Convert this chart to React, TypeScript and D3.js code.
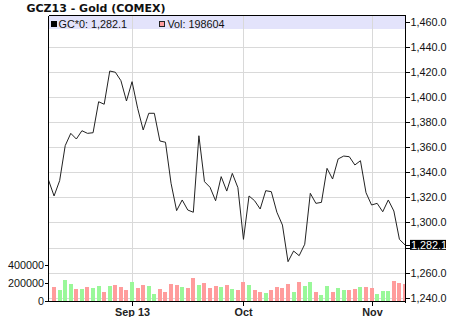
import React from "react";
import * as d3 from "d3";

const dates: string[] = [
  "Aug 12","Aug 13","Aug 14","Aug 15","Aug 16","Aug 19","Aug 20","Aug 21","Aug 22","Aug 23",
  "Aug 26","Aug 27","Aug 28","Aug 29","Aug 30",
  "Sep 3","Sep 4","Sep 5","Sep 6","Sep 9","Sep 10","Sep 11","Sep 12","Sep 13","Sep 16",
  "Sep 17","Sep 18","Sep 19","Sep 20","Sep 23","Sep 24","Sep 25","Sep 26","Sep 27","Sep 30",
  "Oct 1","Oct 2","Oct 3","Oct 4","Oct 7","Oct 8","Oct 9","Oct 10","Oct 11","Oct 14",
  "Oct 15","Oct 16","Oct 17","Oct 18","Oct 21","Oct 22","Oct 23","Oct 24","Oct 25","Oct 28",
  "Oct 29","Oct 30","Oct 31",
  "Nov 1","Nov 4","Nov 5","Nov 6","Nov 7","Nov 8","Nov 11",
];

const prices: number[] = [
  1333.8, 1321.1, 1333.3, 1361.2, 1371.0, 1366.5, 1373.1, 1371.0, 1371.5, 1396.2,
  1394.2, 1420.7, 1419.7, 1413.0, 1396.8, 1412.2, 1391.0, 1373.7, 1387.0, 1387.0,
  1364.9, 1363.9, 1331.2, 1309.4, 1317.9, 1309.9, 1308.1, 1369.1, 1332.5, 1328.0,
  1317.3, 1336.5, 1325.0, 1339.1, 1327.7, 1286.5, 1321.1, 1317.3, 1310.7, 1325.3,
  1324.5, 1308.1, 1297.9, 1268.7, 1277.2, 1273.5, 1282.6, 1323.2, 1315.2, 1316.0,
  1343.1, 1334.6, 1350.6, 1352.9, 1352.4, 1345.8, 1349.2, 1323.7, 1313.9, 1315.2,
  1308.5, 1317.9, 1309.1, 1286.5, 1282.1,
];

const volumes: (number | null)[] = [
  null, 166000, 133000, 244000, 200000, 144000, 144000, 166000, 155000, 178000,
  111000, 178000, 189000, 166000, 133000, 222000, 155000, 189000, 178000, 89000,
  144000, 111000, 200000, 189000, 166000, 155000, 267000, 189000, 211000, 155000,
  178000, 166000, 189000, 144000, 133000, 222000, 189000, 133000, 111000, 100000,
  133000, 166000, 155000, 200000, 111000, 222000, 178000, 222000, 111000, 78000,
  178000, 111000, 155000, 133000, 133000, 144000, 166000, 166000, 155000, 89000,
  122000, 122000, 233000, 211000, 198604,
];

// g = up day (green), d = down day (pink)
const volumeDir: string[] = (
  "d d g g g d g d g g d g d d d g d d g g d d d d g d d g d d d g " +
  "d g d d g d d g d d d d g d g g d g g d g g d d g d d g g g d d d"
).split(" ");

const priceTicks: number[] = [1240, 1260, 1280, 1300, 1320, 1340, 1360, 1380, 1400, 1420, 1440, 1460];
const volumeTicks: number[] = [0, 200000, 400000];
const monthTicks: { date: string; label: string }[] = [
  { date: "Sep 3", label: "Sep 13" },
  { date: "Oct 1", label: "Oct" },
  { date: "Nov 1", label: "Nov" },
];

const title = "GCZ13 - Gold (COMEX)";
const legendPrice = "GC*0: 1,282.1";
const legendVol = "Vol: 198604";

const W = 450;
const H = 317;
const L = 48.5;
const R = 405.5;
const T = 15.5;
const B = 301.5;

const FONT = "'Liberation Sans', Arial, Helvetica, sans-serif";

export default function App() {
  const x = d3.scalePoint<string>().domain(dates).range([L, R - 0.5]);
  const y = d3.scaleLinear().domain([1240, 1460]).range([297.7, 21.7]);
  const yv = d3.scaleLinear().domain([0, 400000]).range([B + 0.5, 265.7]);
  const fmt = d3.format(",.1f");

  const line = d3
    .line<number>()
    .x((_, i) => x(dates[i]) as number)
    .y((d) => y(d));

  const barW = 4;
  const last = prices[prices.length - 1];
  const lastY = y(last);

  return (
    <svg
      width={W}
      height={H}
      style={{ position: "absolute", left: 0, top: 0, display: "block" }}
      fontFamily={FONT}
    >
      <defs>
        <clipPath id="plot">
          <rect x={L} y={T} width={R - L} height={B - T} />
        </clipPath>
      </defs>
      <rect x={0} y={0} width={W} height={H} fill="#fff" />

      <text x={26.5} y={12.3} fontSize={11} fontWeight="bold" fontFamily="'DejaVu Sans', Verdana, sans-serif" fill="#111">
        {title}
      </text>

      {/* horizontal gridlines */}
      <g shapeRendering="crispEdges">
        {priceTicks.map((t) => (
          <line key={t} x1={L} x2={R} y1={Math.round(y(t)) + 0.5} y2={Math.round(y(t)) + 0.5} stroke="#d9d9d9" />
        ))}
      </g>

      {/* legend band */}
      <rect x={L} y={T} width={R - L} height={13.5} fill="#e3e3fb" />

      {/* vertical gridlines */}
      <g shapeRendering="crispEdges">
        {monthTicks.map((m) => {
          const xx = Math.round(x(m.date) as number) + 0.5;
          return <line key={m.label} x1={xx} x2={xx} y1={T} y2={B} stroke="#d9d9d9" />;
        })}
      </g>

      {/* volume bars */}
      <g clipPath="url(#plot)" shapeRendering="crispEdges">
        {volumes.map((v, i) =>
          v == null ? null : (
            <rect
              key={i}
              x={(x(dates[i]) as number) - barW / 2}
              y={yv(v)}
              width={barW}
              height={yv(0) - yv(v)}
              fill={volumeDir[i] === "g" ? "#99f899" : "#ff9c9c"}
            />
          )
        )}
      </g>

      {/* price line */}
      <path d={line(prices) ?? ""} fill="none" stroke="#222" strokeWidth={1} clipPath="url(#plot)" />

      {/* legend */}
      <rect x={51.5} y={21.5} width={5} height={5} fill="#000" stroke="#000" />
      <text x={58.5} y={28} fontSize={10.8} fill="#111">{legendPrice}</text>
      <rect x={159.5} y={21.5} width={5} height={5} fill="#ff9c9c" stroke="#222" />
      <text x={167.5} y={28} fontSize={10.8} fill="#111">{legendVol}</text>

      {/* frame / axes */}
      <g shapeRendering="crispEdges" stroke="#000">
        <line x1={L} x2={R} y1={T} y2={T} />
        <line x1={L} x2={L} y1={T} y2={B} />
        <line x1={R} x2={R} y1={T} y2={B + 1} />
        <line x1={L} x2={R} y1={B} y2={B} />
      </g>

      {/* right price axis */}
      <g fontSize={10.8} fill="#111">
        {priceTicks.map((t) => {
          const yy = Math.round(y(t)) + 0.5;
          const hidden = Math.abs(y(t) - lastY) < 10;
          return (
            <g key={t}>
              <line x1={R} x2={R + 4} y1={yy} y2={yy} stroke="#000" shapeRendering="crispEdges" />
              {hidden ? null : <text x={R + 5} y={yy} dy="0.36em">{fmt(t)}</text>}
            </g>
          );
        })}
      </g>

      {/* last value label */}
      <line x1={R} x2={R + 4} y1={Math.round(lastY) + 0.5} y2={Math.round(lastY) + 0.5} stroke="#000" shapeRendering="crispEdges" />
      <rect x={410} y={lastY - 5} width={36} height={10} fill="#000" />
      <text x={411} y={lastY} dy="0.36em" fontSize={10.8} fill="#fff">{fmt(last)}</text>

      {/* left volume axis */}
      <g fontSize={10.8} fill="#111">
        {volumeTicks.map((t) => {
          const yy = Math.round(yv(t)) - 0.5;
          return (
            <g key={t}>
              <line x1={L - 4} x2={L} y1={yy} y2={yy} stroke="#000" shapeRendering="crispEdges" />
              <text x={L - 4.5} y={yy} dy="0.36em" textAnchor="end">{t}</text>
            </g>
          );
        })}
      </g>

      {/* bottom month axis */}
      <g fontSize={10.8} fontWeight="bold" fill="#222">
        {monthTicks.map((m) => {
          const xx = Math.round(x(m.date) as number) + 0.5;
          return (
            <g key={m.label}>
              <line x1={xx} x2={xx} y1={B} y2={B + 4} stroke="#000" shapeRendering="crispEdges" />
              <text x={xx} y={316} textAnchor="middle">{m.label}</text>
            </g>
          );
        })}
      </g>
    </svg>
  );
}
